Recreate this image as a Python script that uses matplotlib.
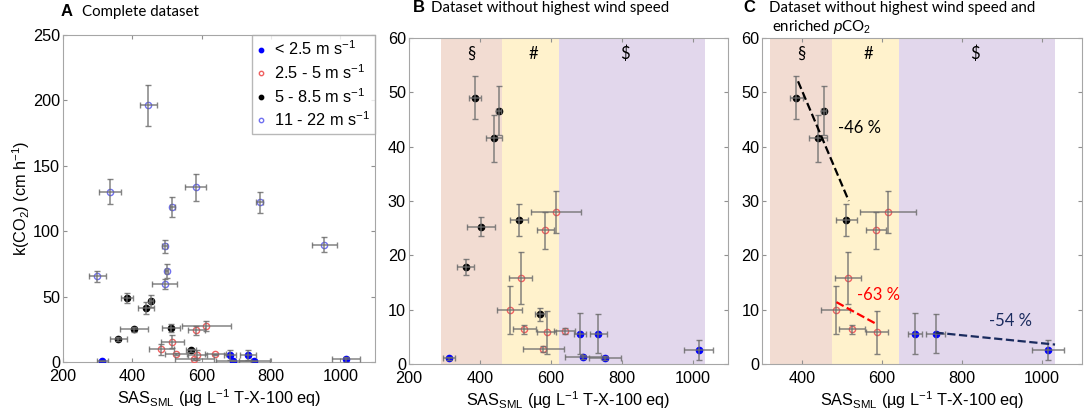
import matplotlib.pyplot as plt
import numpy as np

# wind speed classes: x = SAS_SML, y = k(CO2), with x / y errors
# < 2.5 m/s
low_x = [313, 682, 734, 691, 752, 1016]
low_y = [1.05, 5.6, 5.6, 1.35, 1.15, 2.6]
low_xe = [16, 18, 24, 50, 45, 40]
low_ye = [0.3, 3.8, 3.6, 0.4, 0.3, 1.9]

# 2.5 - 5 m/s
mid_x = [614, 585, 515, 484, 525, 588, 579, 639]
mid_y = [28.0, 24.6, 15.8, 9.95, 6.4, 5.85, 2.8, 6.1]
mid_xe = [70, 25, 33, 36, 32, 28, 57, 30]
mid_ye = [3.9, 3.4, 4.8, 4.4, 0.8, 3.9, 0.6, 0.5]

# 5 - 8.5 m/s
hi_x = [386, 454, 440, 404, 360, 511, 570]
hi_y = [49.0, 46.6, 41.5, 25.3, 17.9, 26.5, 9.2]
hi_xe = [17, 7, 22, 40, 24, 26, 14]
hi_ye = [4.0, 4.5, 4.3, 1.8, 1.5, 3.0, 1.2]

# 11 - 22 m/s
top_x = [446, 335, 583, 516, 768, 954, 299, 494, 499, 493]
top_y = [196.2, 130.4, 133.7, 118.6, 122.2, 90.0, 65.6, 88.5, 69.9, 59.7]
top_xe = [25, 32, 31, 6, 10, 36, 25, 7, 5, 36]
top_ye = [15.5, 9.5, 10.5, 7.5, 8.0, 5.5, 4.0, 5.0, 5.5, 4.0]

# points kept in panel C (indices into the arrays above)
c_low = [1, 2, 5]
c_mid = [0, 1, 2, 3, 4, 5]
c_hi = [0, 1, 2, 5]

# shaded SAS ranges
bands_b = [290, 463, 622, 1034]
bands_c = [320, 475, 642, 1032]
band_labels = ['§', '#', '$']
band_colors = ['#F2DCD2', '#FFF2CC', '#E2D7EC']

# trend lines in panel C
trend_hi = ([390, 517], [52, 30])
trend_mid = ([486, 588], [11.4, 7.3])
trend_low = ([734, 1033], [5.8, 3.6])

plt.rcParams['font.family'] = ['Liberation Sans', 'DejaVu Sans']
plt.rcParams['mathtext.fontset'] = 'custom'
plt.rcParams['mathtext.rm'] = 'Liberation Sans'
plt.rcParams['mathtext.it'] = 'Liberation Sans:italic'

fig = plt.figure(figsize=(10.84, 4.2), dpi=100)
axA = fig.add_axes([0.058, 0.137, 0.288, 0.78])
axB = fig.add_axes([0.377, 0.133, 0.295, 0.777])
axC = fig.add_axes([0.703, 0.133, 0.295, 0.777])

ecol = '#6E6E6E'
styles = {
    'low': dict(marker='o', ms=4.5, mfc='#0000FF', mec='#0000FF'),
    'mid': dict(marker='o', ms=4.5, mfc='none', mec='#F06060', mew=1.0),
    'hi': dict(marker='o', ms=4.5, mfc='black', mec='black'),
    'top': dict(marker='o', ms=4.5, mfc='none', mec='#7070F0', mew=1.0),
}
tf = ['Lato', 'DejaVu Sans']
fs = 11.7


def draw(ax, x, y, xe, ye, key, label=None):
    x = np.asarray(x); y = np.asarray(y)
    ax.plot(x, y, ls='none', label=label, zorder=3, **styles[key])
    ax.errorbar(x, y, xerr=xe, yerr=ye, fmt='none', ecolor=ecol, elinewidth=1.1,
                capsize=2, capthick=1.0, alpha=0.85, zorder=4)


def style(ax, xlim, ylim, yticks):
    ax.set_xlim(*xlim)
    ax.set_ylim(*ylim)
    ax.set_yticks(yticks)
    for s in ax.spines.values():
        s.set_color('#A6A6A6')
    ax.tick_params(direction='in', top=True, right=True, length=3, color='#909090',
                   labelsize=fs)
    ax.tick_params(axis='x', pad=5)
    ax.tick_params(axis='y', pad=2)
    ax.set_xlabel('SAS$_{\\mathrm{SML}}$ (µg L$^{-1}$ T-X-100 eq)', fontsize=fs, labelpad=2)


# panel A
draw(axA, low_x, low_y, low_xe, low_ye, 'low', '< 2.5 m s$^{-1}$')
draw(axA, mid_x, mid_y, mid_xe, mid_ye, 'mid', '2.5 - 5 m s$^{-1}$')
draw(axA, hi_x, hi_y, hi_xe, hi_ye, 'hi', '5 - 8.5 m s$^{-1}$')
draw(axA, top_x, top_y, top_xe, top_ye, 'top', '11 - 22 m s$^{-1}$')
style(axA, (200, 1100), (0, 250), range(0, 251, 50))
axA.set_ylabel('k(CO$_2$) (cm h$^{-1}$)', fontsize=fs, labelpad=1)
leg = axA.legend(loc='upper right', fontsize=fs, frameon=True, fancybox=False,
                 markerscale=0.7, handlelength=0.6, handletextpad=0.5,
                 borderpad=0.3, labelspacing=0.3, borderaxespad=0.0)
leg.get_frame().set_edgecolor('#A6A6A6')
leg.get_frame().set_linewidth(1.0)

# panel B
for i in range(3):
    axB.axvspan(bands_b[i], bands_b[i + 1], color=band_colors[i], lw=0, zorder=0)
xs_b = [375, 550, 808]
for i in range(3):
    axB.text(xs_b[i], 57, band_labels[i], ha='center', va='center', fontsize=12, family=tf)
draw(axB, low_x, low_y, low_xe, low_ye, 'low')
draw(axB, mid_x, mid_y, mid_xe, mid_ye, 'mid')
draw(axB, hi_x, hi_y, hi_xe, hi_ye, 'hi')
style(axB, (200, 1100), (0, 60), range(0, 61, 10))

# panel C
for i in range(3):
    axC.axvspan(bands_c[i], bands_c[i + 1], color=band_colors[i], lw=0, zorder=0)
xs_c = [398, 567, 832]
for i in range(3):
    axC.text(xs_c[i], 57, band_labels[i], ha='center', va='center', fontsize=12, family=tf)
pick = lambda a, idx: [a[i] for i in idx]
draw(axC, pick(low_x, c_low), pick(low_y, c_low), pick(low_xe, c_low), pick(low_ye, c_low), 'low')
draw(axC, pick(mid_x, c_mid), pick(mid_y, c_mid), pick(mid_xe, c_mid), pick(mid_ye, c_mid), 'mid')
draw(axC, pick(hi_x, c_hi), pick(hi_y, c_hi), pick(hi_xe, c_hi), pick(hi_ye, c_hi), 'hi')
axC.plot(*trend_hi, ls='--', color='black', lw=1.6, zorder=5)
axC.plot(*trend_mid, ls='--', color='#FF0000', lw=1.6, zorder=5)
axC.plot(*trend_low, ls='--', color='#1A2B5E', lw=1.6, zorder=5)
axC.text(544, 43.4, '-46 %', ha='center', va='center', fontsize=12, color='black', family=tf)
axC.text(591, 12.8, '-63 %', ha='center', va='center', fontsize=12, color='#FF0000', family=tf)
axC.text(921, 7.9, '-54 %', ha='center', va='center', fontsize=12, color='#1A2B5E', family=tf)
style(axC, (300, 1100), (0, 60), range(0, 61, 10))
axC.set_xticks([400, 600, 800, 1000])

# panel titles
tfs = 10.8
fig.text(0.056, 0.972, 'A', fontsize=12, weight='bold', va='center')
fig.text(0.0756, 0.972, 'Complete dataset', fontsize=tfs, va='center', family=tf)
fig.text(0.381, 0.982, 'B', fontsize=12, weight='bold', va='center')
fig.text(0.398, 0.982, 'Dataset without highest wind speed', fontsize=tfs, va='center', family=tf)
fig.text(0.686, 0.982, 'C', fontsize=12, weight='bold', va='center')
fig.text(0.709, 0.982, 'Dataset without highest wind speed and', fontsize=tfs, va='center', family=tf)
fig.text(0.712, 0.935, 'enriched $\\mathit{p}$CO$_2$', fontsize=tfs, va='center', family=tf)

fig.savefig('out.png', dpi=100)
